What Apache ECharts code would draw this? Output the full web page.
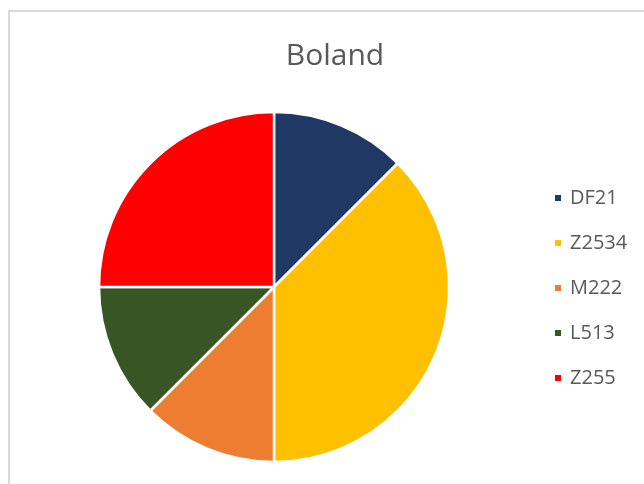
<!DOCTYPE html>
<html>
<head>
<meta charset="utf-8">
<script src="https://cdn.jsdelivr.net/npm/echarts@6/dist/echarts.min.js"></script>
<style>
  html, body { margin: 0; padding: 0; background: #fff; }
  #chart { width: 644px; height: 484px; }
</style>
</head>
<body>
<div id="chart"></div>
<script>
// Slice names and their shares
const categories = ['DF21', 'Z2534', 'M222', 'L513', 'Z255'];
const values = [1, 3, 1, 1, 2];
const colors = ['#1F3864', '#FFC000', '#ED7D31', '#375623', '#FF0000'];

const chart = echarts.init(document.getElementById('chart'), null, { renderer: 'canvas' });

const pieData = categories.map((name, i) => ({
  name: name,
  value: values[i],
  itemStyle: { color: colors[i] }
}));

chart.setOption({
  animation: false,
  backgroundColor: '#ffffff',
  title: {
    text: 'Boland',
    left: 330,
    textAlign: 'center',
    top: 36,
    textStyle: {
      fontFamily: 'Open Sans',
      fontSize: 30,
      fontWeight: 'normal',
      color: '#595959'
    }
  },
  legend: {
    orient: 'vertical',
    left: 548,
    top: 183,
    itemWidth: 8,
    itemHeight: 8,
    itemGap: 25,
    icon: 'rect',
    textStyle: {
      fontFamily: 'Open Sans',
      fontSize: 20,
      color: '#595959',
      padding: [0, 0, 0, 3]
    },
    data: categories
  },
  graphic: [{
    type: 'polyline',
    shape: { points: [[9, 484], [9, 11], [644, 11]] },
    style: { stroke: '#D9D9D9', lineWidth: 2, fill: null }
  }],
  series: [{
    type: 'pie',
    center: [274, 287],
    radius: 175,
    startAngle: 90,
    clockwise: true,
    label: { show: false },
    labelLine: { show: false },
    emphasis: { disabled: true },
    itemStyle: { borderColor: '#ffffff', borderWidth: 2.5 },
    data: pieData
  }]
});
</script>
</body>
</html>
